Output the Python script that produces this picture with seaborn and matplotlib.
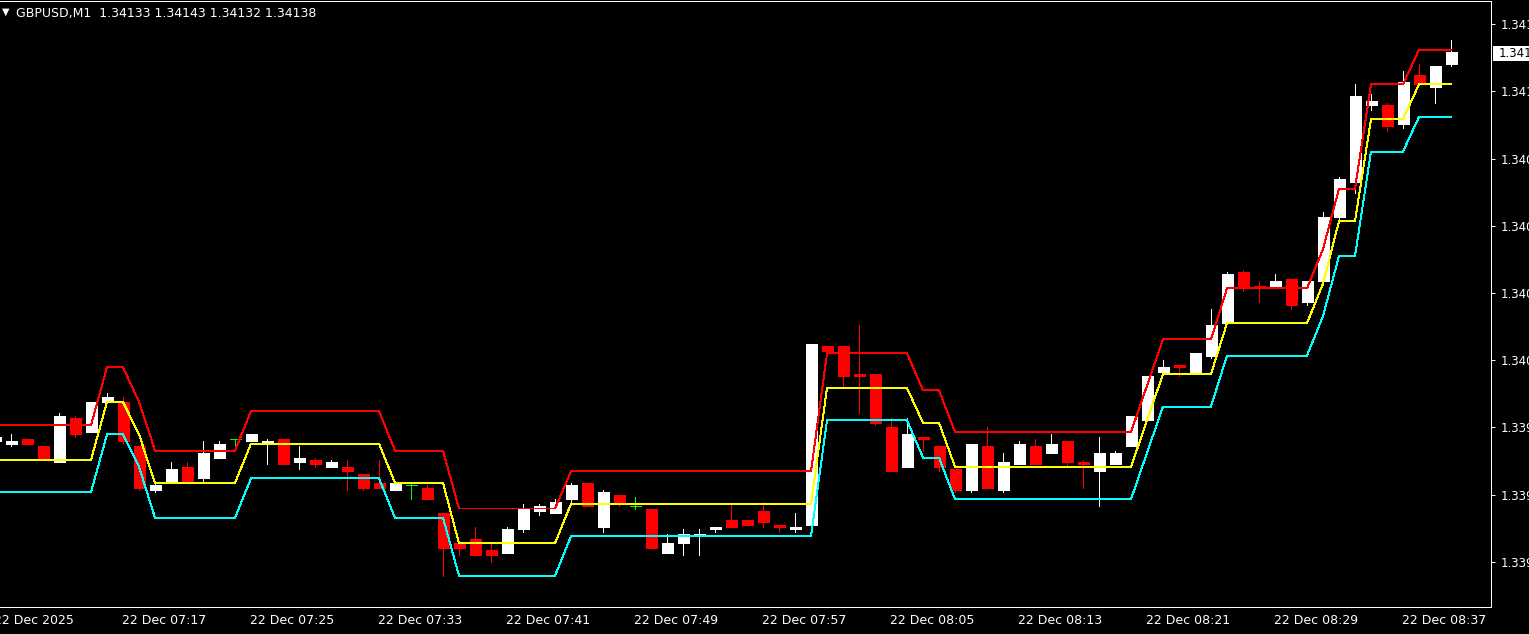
import numpy as np
import pandas as pd
import matplotlib
matplotlib.use("Agg")
import matplotlib.pyplot as plt
import matplotlib.transforms as mtransforms
from matplotlib.patches import Rectangle
import seaborn as sns

# ---------------- data (GBPUSD M1, 22 Dec 2025 07:09 - 08:40) ----------------
open_ = [
    1.33970, 1.33969, 1.33971, 1.33968, 1.33961, 1.33980, 1.33974, 1.33987, 1.33987, 1.33968,
    1.33949, 1.33953, 1.33959, 1.33954, 1.33963, 1.33971, 1.33970, 1.33969, 1.33971, 1.33961,
    1.33962, 1.33959, 1.33959, 1.33956, 1.33952, 1.33949, 1.33951, 1.33950, 1.33939, 1.33926,
    1.33928, 1.33923, 1.33922, 1.33932, 1.33940, 1.33939, 1.33945, 1.33952, 1.33933, 1.33947,
    1.33942, 1.33941, 1.33922, 1.33926, 1.33929, 1.33932, 1.33936, 1.33936, 1.33940, 1.33934,
    1.33932, 1.33934, 1.34011, 1.34011, 1.33999, 1.33999, 1.33976, 1.33959, 1.33972, 1.33968,
    1.33958, 1.33949, 1.33968, 1.33949, 1.33960, 1.33968, 1.33965, 1.33970, 1.33961, 1.33957,
    1.33960, 1.33968, 1.33979, 1.34000, 1.34003, 1.34000, 1.34007, 1.34021, 1.34043, 1.34037,
    1.34036, 1.34040, 1.34030, 1.34039, 1.34067, 1.34082, 1.34115, 1.34115, 1.34107, 1.34128,
    1.34123, 1.34133]
high = [
    1.33973, 1.33973, 1.33971, 1.33968, 1.33982, 1.33981, 1.33987, 1.33991, 1.33989, 1.33968,
    1.33952, 1.33961, 1.33961, 1.33970, 1.33970, 1.33971, 1.33973, 1.33971, 1.33971, 1.33968,
    1.33963, 1.33962, 1.33962, 1.33956, 1.33962, 1.33952, 1.33952, 1.33951, 1.33939, 1.33926,
    1.33933, 1.33926, 1.33933, 1.33943, 1.33943, 1.33945, 1.33952, 1.33952, 1.33949, 1.33947,
    1.33946, 1.33941, 1.33930, 1.33932, 1.33932, 1.33933, 1.33943, 1.33936, 1.33944, 1.33934,
    1.33939, 1.34012, 1.34011, 1.34011, 1.34020, 1.33999, 1.33980, 1.33980, 1.33972, 1.33968,
    1.33958, 1.33969, 1.33976, 1.33965, 1.33970, 1.33971, 1.33973, 1.33970, 1.33962, 1.33972,
    1.33966, 1.33981, 1.33998, 1.34005, 1.34003, 1.34008, 1.34027, 1.34043, 1.34044, 1.34039,
    1.34042, 1.34040, 1.34039, 1.34069, 1.34084, 1.34124, 1.34120, 1.34116, 1.34130, 1.34133,
    1.34132, 1.34143]
low = [
    1.33970, 1.33968, 1.33969, 1.33962, 1.33961, 1.33972, 1.33974, 1.33987, 1.33969, 1.33949,
    1.33948, 1.33952, 1.33953, 1.33953, 1.33963, 1.33966, 1.33970, 1.33960, 1.33960, 1.33958,
    1.33959, 1.33959, 1.33949, 1.33949, 1.33950, 1.33949, 1.33945, 1.33945, 1.33912, 1.33921,
    1.33921, 1.33918, 1.33922, 1.33931, 1.33938, 1.33939, 1.33943, 1.33942, 1.33931, 1.33942,
    1.33941, 1.33924, 1.33922, 1.33921, 1.33921, 1.33931, 1.33933, 1.33934, 1.33933, 1.33931,
    1.33931, 1.33934, 1.34009, 1.33994, 1.33982, 1.33977, 1.33957, 1.33959, 1.33966, 1.33957,
    1.33948, 1.33948, 1.33950, 1.33948, 1.33960, 1.33960, 1.33965, 1.33959, 1.33950, 1.33942,
    1.33960, 1.33968, 1.33979, 1.34000, 1.33998, 1.33999, 1.34006, 1.34021, 1.34035, 1.34030,
    1.34036, 1.34027, 1.34029, 1.34039, 1.34064, 1.34077, 1.34113, 1.34104, 1.34105, 1.34124,
    1.34116, 1.34132]
close = [
    1.33972, 1.33970, 1.33969, 1.33963, 1.33981, 1.33973, 1.33987, 1.33989, 1.33970, 1.33950,
    1.33951, 1.33958, 1.33953, 1.33965, 1.33969, 1.33971, 1.33973, 1.33970, 1.33960, 1.33963,
    1.33960, 1.33961, 1.33957, 1.33950, 1.33950, 1.33952, 1.33951, 1.33945, 1.33924, 1.33924,
    1.33921, 1.33921, 1.33932, 1.33941, 1.33942, 1.33944, 1.33951, 1.33942, 1.33948, 1.33943,
    1.33942, 1.33924, 1.33926, 1.33930, 1.33930, 1.33933, 1.33933, 1.33934, 1.33935, 1.33933,
    1.33933, 1.34012, 1.34009, 1.33998, 1.33998, 1.33978, 1.33957, 1.33973, 1.33971, 1.33959,
    1.33949, 1.33969, 1.33950, 1.33961, 1.33969, 1.33960, 1.33969, 1.33961, 1.33960, 1.33965,
    1.33965, 1.33981, 1.33998, 1.34002, 1.34002, 1.34008, 1.34020, 1.34042, 1.34036, 1.34036,
    1.34039, 1.34029, 1.34039, 1.34067, 1.34083, 1.34119, 1.34117, 1.34106, 1.34125, 1.34124,
    1.34132, 1.34138]

upper_band = [
    1.33977, 1.33977, 1.33977, 1.33977, 1.33977, 1.33977, 1.33977, 1.34002, 1.34002, 1.33987,
    1.33966, 1.33966, 1.33966, 1.33966, 1.33966, 1.33966, 1.33983, 1.33983, 1.33983, 1.33983,
    1.33983, 1.33983, 1.33983, 1.33983, 1.33983, 1.33966, 1.33966, 1.33966, 1.33966, 1.33941,
    1.33941, 1.33941, 1.33941, 1.33941, 1.33941, 1.33941, 1.33957, 1.33957, 1.33957, 1.33957,
    1.33957, 1.33957, 1.33957, 1.33957, 1.33957, 1.33957, 1.33957, 1.33957, 1.33957, 1.33957,
    1.33957, 1.33957, 1.34008, 1.34008, 1.34008, 1.34008, 1.34008, 1.34008, 1.33992, 1.33992,
    1.33974, 1.33974, 1.33974, 1.33974, 1.33974, 1.33974, 1.33974, 1.33974, 1.33974, 1.33974,
    1.33974, 1.33974, 1.33994, 1.34014, 1.34014, 1.34014, 1.34014, 1.34036, 1.34036, 1.34036,
    1.34036, 1.34036, 1.34036, 1.34053, 1.34079, 1.34079, 1.34124, 1.34124, 1.34124, 1.34139,
    1.34139, 1.34139]
middle_band = [
    1.33962, 1.33962, 1.33962, 1.33962, 1.33962, 1.33962, 1.33962, 1.33987, 1.33987, 1.33973,
    1.33952, 1.33952, 1.33952, 1.33952, 1.33952, 1.33952, 1.33969, 1.33969, 1.33969, 1.33969,
    1.33969, 1.33969, 1.33969, 1.33969, 1.33969, 1.33952, 1.33952, 1.33952, 1.33952, 1.33926,
    1.33926, 1.33926, 1.33926, 1.33926, 1.33926, 1.33926, 1.33943, 1.33943, 1.33943, 1.33943,
    1.33943, 1.33943, 1.33943, 1.33943, 1.33943, 1.33943, 1.33943, 1.33943, 1.33943, 1.33943,
    1.33943, 1.33943, 1.33993, 1.33993, 1.33993, 1.33993, 1.33993, 1.33993, 1.33978, 1.33978,
    1.33959, 1.33959, 1.33959, 1.33959, 1.33959, 1.33959, 1.33959, 1.33959, 1.33959, 1.33959,
    1.33959, 1.33959, 1.33979, 1.33999, 1.33999, 1.33999, 1.33999, 1.34021, 1.34021, 1.34021,
    1.34021, 1.34021, 1.34021, 1.34038, 1.34065, 1.34065, 1.34109, 1.34109, 1.34109, 1.34124,
    1.34124, 1.34124]
lower_band = [
    1.33948, 1.33948, 1.33948, 1.33948, 1.33948, 1.33948, 1.33948, 1.33973, 1.33973, 1.33959,
    1.33937, 1.33937, 1.33937, 1.33937, 1.33937, 1.33937, 1.33954, 1.33954, 1.33954, 1.33954,
    1.33954, 1.33954, 1.33954, 1.33954, 1.33954, 1.33937, 1.33937, 1.33937, 1.33937, 1.33912,
    1.33912, 1.33912, 1.33912, 1.33912, 1.33912, 1.33912, 1.33929, 1.33929, 1.33929, 1.33929,
    1.33929, 1.33929, 1.33929, 1.33929, 1.33929, 1.33929, 1.33929, 1.33929, 1.33929, 1.33929,
    1.33929, 1.33929, 1.33979, 1.33979, 1.33979, 1.33979, 1.33979, 1.33979, 1.33963, 1.33963,
    1.33945, 1.33945, 1.33945, 1.33945, 1.33945, 1.33945, 1.33945, 1.33945, 1.33945, 1.33945,
    1.33945, 1.33945, 1.33965, 1.33985, 1.33985, 1.33985, 1.33985, 1.34007, 1.34007, 1.34007,
    1.34007, 1.34007, 1.34007, 1.34024, 1.34050, 1.34050, 1.34095, 1.34095, 1.34095, 1.34110,
    1.34110, 1.34110]

time_labels = ["22 Dec 2025", "22 Dec 07:17", "22 Dec 07:25", "22 Dec 07:33", "22 Dec 07:41",
               "22 Dec 07:49", "22 Dec 07:57", "22 Dec 08:05", "22 Dec 08:13", "22 Dec 08:21",
               "22 Dec 08:29", "22 Dec 08:37"]
time_label_bars = [0, 8, 16, 24, 32, 40, 48, 56, 64, 72, 80, 88]
price_ticks = [1.33918, 1.33947, 1.33976, 1.34005, 1.34034, 1.34063, 1.34092, 1.34121, 1.34150]
symbol_title = "GBPUSD,M1  1.34133 1.34143 1.34132 1.34138"
last_price = 1.34138

# ---------------- style ----------------
sns.set_style("dark")
plt.rcParams['font.family'] = ['DejaVu Sans']
plt.rcParams['lines.antialiased'] = False
plt.rcParams['patch.antialiased'] = False

LW = 0.7  # one pixel at 100 dpi

W, H = 1529, 634
fig = plt.figure(figsize=(W / 100, H / 100), dpi=100, facecolor='black')
ax = fig.add_axes([0, (H - 607) / H, 1491 / W, (607 - 1) / H])
ax.set_facecolor('black')
ax.grid(False)

o = np.array(open_); c = np.array(close); hi = np.array(high); lo = np.array(low)
idx = np.arange(len(c))
cols = np.where(c > o, 'white', np.where(c < o, '#FF0000', '#00FF00'))
bw = 11 / 16

# wicks
ax.vlines(idx, lo, hi, colors=cols, linewidth=LW, antialiased=False, zorder=2)
# bodies
body_mask = c != o
ax.bar(idx[body_mask], np.abs(c - o)[body_mask], bottom=np.minimum(c, o)[body_mask],
       width=bw, color=cols[body_mask], edgecolor=cols[body_mask], linewidth=0.4,
       antialiased=False, zorder=3)
# doji
dmask = c == o
ax.hlines(o[dmask], idx[dmask] - bw / 2, idx[dmask] + bw / 2, colors='#00FF00',
          linewidth=LW, antialiased=False, zorder=3)

# indicator lines (seaborn)
df = pd.DataFrame({'bar': idx, 'upper': upper_band, 'middle': middle_band, 'lower': lower_band})
for col, colr in [('upper', '#FF0000'), ('middle', '#FFFF00'), ('lower', '#00FFFF')]:
    sns.lineplot(data=df, x='bar', y=col, color=colr, linewidth=LW, ax=ax,
                 legend=False, zorder=4, antialiased=False)

ax.set_xlim(0.3125, 93.5)
ax.set_ylim(1.338985, 1.341600)
ax.set_xlabel('')
ax.set_ylabel('')

for s in ['top', 'right', 'bottom']:
    ax.spines[s].set_visible(True)
    ax.spines[s].set_color('white')
    ax.spines[s].set_linewidth(LW)
ax.spines['left'].set_visible(False)

ax.yaxis.tick_right()
ax.set_yticks(price_ticks)
ax.set_yticklabels([f"{v:.5f}" for v in price_ticks])
ax.tick_params(axis='y', colors='white', labelcolor='white', length=3, width=LW,
               direction='out', pad=4, labelsize=8.5)
ax.set_xticks(time_label_bars[1:])
ax.set_xticklabels([])
ax.tick_params(axis='x', colors='white', length=3.5, width=LW, direction='out')

tr = mtransforms.blended_transform_factory(ax.transData, fig.transFigure)
for b, lab in zip(time_label_bars, time_labels):
    ax.text(b - 1 / 16, 1 - 620 / H, lab, transform=tr, color='white', fontsize=9,
            ha='left', va='center', clip_on=False)

# current price box
fig.add_artist(Rectangle((1493 / W, 1 - 61 / H), 40 / W, 15 / H, transform=fig.transFigure,
                         facecolor='white', edgecolor='none', zorder=5))
fig.text(1499 / W, 1 - 53.5 / H, f"{last_price:.5f}", color='black', fontsize=8.5,
         ha='left', va='center', zorder=6)

# title
fig.text(2 / W, 1 - 12 / H, "\u25BC", color='white', fontsize=7, ha='left', va='center')
fig.text(16 / W, 1 - 13 / H, symbol_title, color='white', fontsize=9, ha='left', va='center')

fig.savefig("out.png", dpi=100, facecolor='black')
